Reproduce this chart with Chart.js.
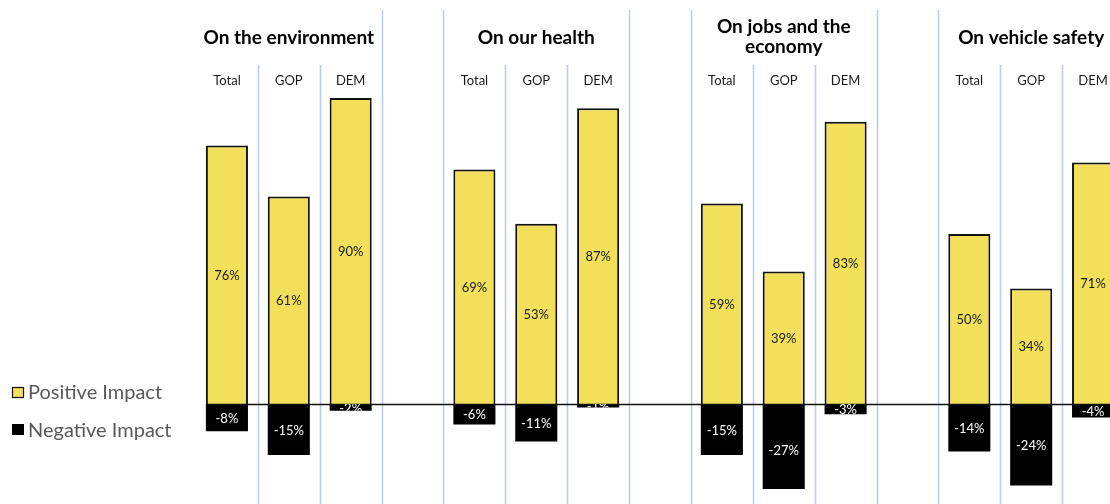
<!DOCTYPE html>
<html>
<head>
<meta charset="utf-8">
<script src="https://cdn.jsdelivr.net/npm/chart.js@4/dist/chart.umd.min.js"></script>
<style>
  html, body { margin: 0; padding: 0; background: #fff; overflow: hidden; }
  #wrap { position: absolute; left: 0; top: 0; width: 1140px; height: 504px; }
</style>
</head>
<body>
<div id="wrap"><canvas id="impact"></canvas></div>
<script>
// survey groups and the three columns inside each
var groupTitles = [['On the environment'], ['On our health'], ['On jobs and the', 'economy'], ['On vehicle safety']];
var subgroups = ['Total', 'GOP', 'DEM'];

// percent per group, Total / GOP / DEM
var positiveImpact = [[76, 61, 90], [69, 53, 87], [59, 39, 83], [50, 34, 71]];
var negativeImpact = [[-8, -15, -2], [-6, -11, -1], [-15, -27, -3], [-14, -24, -4]];

var yMin = -25;
var yMax = 110;

var FONT = 'Lato, "Open Sans", sans-serif';
var YELLOW = '#f2e05a';
var SEP = '#b7cbea';

// flatten into 15 slots, one empty slot between groups
var labels = [];
var posData = [];
var negData = [];
groupTitles.forEach(function (t, g) {
  subgroups.forEach(function (s, k) {
    labels.push(s);
    posData.push(positiveImpact[g][k]);
    negData.push(negativeImpact[g][k]);
  });
  if (g < groupTitles.length - 1) {
    labels.push('');
    posData.push(null);
    negData.push(null);
  }
});

var decor = {
  id: 'decor',
  beforeDatasetsDraw: function (chart) {
    var ctx = chart.ctx, x = chart.scales.x;
    ctx.save();
    ctx.strokeStyle = SEP;
    ctx.lineWidth = 1.5;
    for (var i = 0; i < labels.length - 1; i++) {
      var px = Math.round((x.getPixelForValue(i) + x.getPixelForValue(i + 1)) / 2) + 0.5;
      var full = (i % 4 === 2 || i % 4 === 3);
      ctx.beginPath();
      ctx.moveTo(px, full ? 10 : 65);
      ctx.lineTo(px, chart.height);
      ctx.stroke();
    }
    ctx.restore();
  },
  afterDatasetsDraw: function (chart) {
    var ctx = chart.ctx, x = chart.scales.x, y = chart.scales.y;
    var first = chart.getDatasetMeta(0).data[0];
    var y0 = Math.round(y.getPixelForValue(0)) + 0.5;
    ctx.save();
    // zero line
    ctx.strokeStyle = '#111';
    ctx.lineWidth = 1.5;
    ctx.beginPath();
    ctx.moveTo(first.x - first.width / 2, y0);
    ctx.lineTo(chart.width, y0);
    ctx.stroke();

    // value labels, clipped to their bar
    ctx.font = '13px ' + FONT;
    ctx.textAlign = 'center';
    ctx.textBaseline = 'middle';
    [0, 1].forEach(function (di) {
      var ds = chart.data.datasets[di];
      chart.getDatasetMeta(di).data.forEach(function (bar, i) {
        var v = ds.data[i];
        if (v === null) return;
        var top = Math.min(bar.y, bar.base), bot = Math.max(bar.y, bar.base);
        ctx.save();
        ctx.beginPath();
        ctx.rect(bar.x - bar.width / 2, top, bar.width, bot - top);
        ctx.clip();
        ctx.fillStyle = di === 0 ? '#1a1a1a' : '#ffffff';
        ctx.fillText(v + '%', bar.x, y.getPixelForValue(v / 2) + 1);
        ctx.restore();
      });
    });

    // column headers
    ctx.fillStyle = '#1a1a1a';
    ctx.font = '13px ' + FONT;
    labels.forEach(function (l, i) {
      if (l) ctx.fillText(l, x.getPixelForValue(i), 81);
    });

    // group titles over the middle column
    ctx.fillStyle = '#000';
    ctx.font = 'bold 19px ' + FONT;
    groupTitles.forEach(function (lines, g) {
      var cx = x.getPixelForValue(g * 4 + 1);
      if (lines.length === 1) {
        ctx.fillText(lines[0], cx, 38);
      } else {
        lines.forEach(function (t, j) { ctx.fillText(t, cx, 27 + j * 20); });
      }
    });

    // legend
    ctx.textAlign = 'left';
    ctx.font = '20px ' + FONT;
    ctx.fillStyle = YELLOW;
    ctx.fillRect(12, 387, 12, 11);
    ctx.strokeStyle = '#111';
    ctx.lineWidth = 1.2;
    ctx.strokeRect(12.5, 387.5, 11, 10);
    ctx.fillStyle = '#000';
    ctx.fillRect(12, 424, 12, 11);
    ctx.fillStyle = '#595959';
    ctx.fillText('Positive Impact', 28, 393);
    ctx.fillText('Negative Impact', 28, 431);
    ctx.restore();
  }
};

new Chart(document.getElementById('impact'), {
  type: 'bar',
  data: {
    labels: labels,
    datasets: [
      {
        label: 'Positive Impact',
        data: posData,
        backgroundColor: YELLOW,
        borderColor: '#111',
        borderWidth: 2,
        barPercentage: 0.68,
        categoryPercentage: 1
      },
      {
        label: 'Negative Impact',
        data: negData,
        backgroundColor: '#000',
        borderColor: '#000',
        borderWidth: 0,
        barPercentage: 0.68,
        categoryPercentage: 1
      }
    ]
  },
  options: {
    responsive: true,
    maintainAspectRatio: false,
    animation: false,
    layout: { padding: { left: 196, right: 16, top: 30, bottom: 15 } },
    plugins: { legend: { display: false }, tooltip: { enabled: false } },
    scales: {
      x: { stacked: true, display: false },
      y: { stacked: true, display: false, min: yMin, max: yMax }
    }
  },
  plugins: [decor]
});
</script>
</body>
</html>
